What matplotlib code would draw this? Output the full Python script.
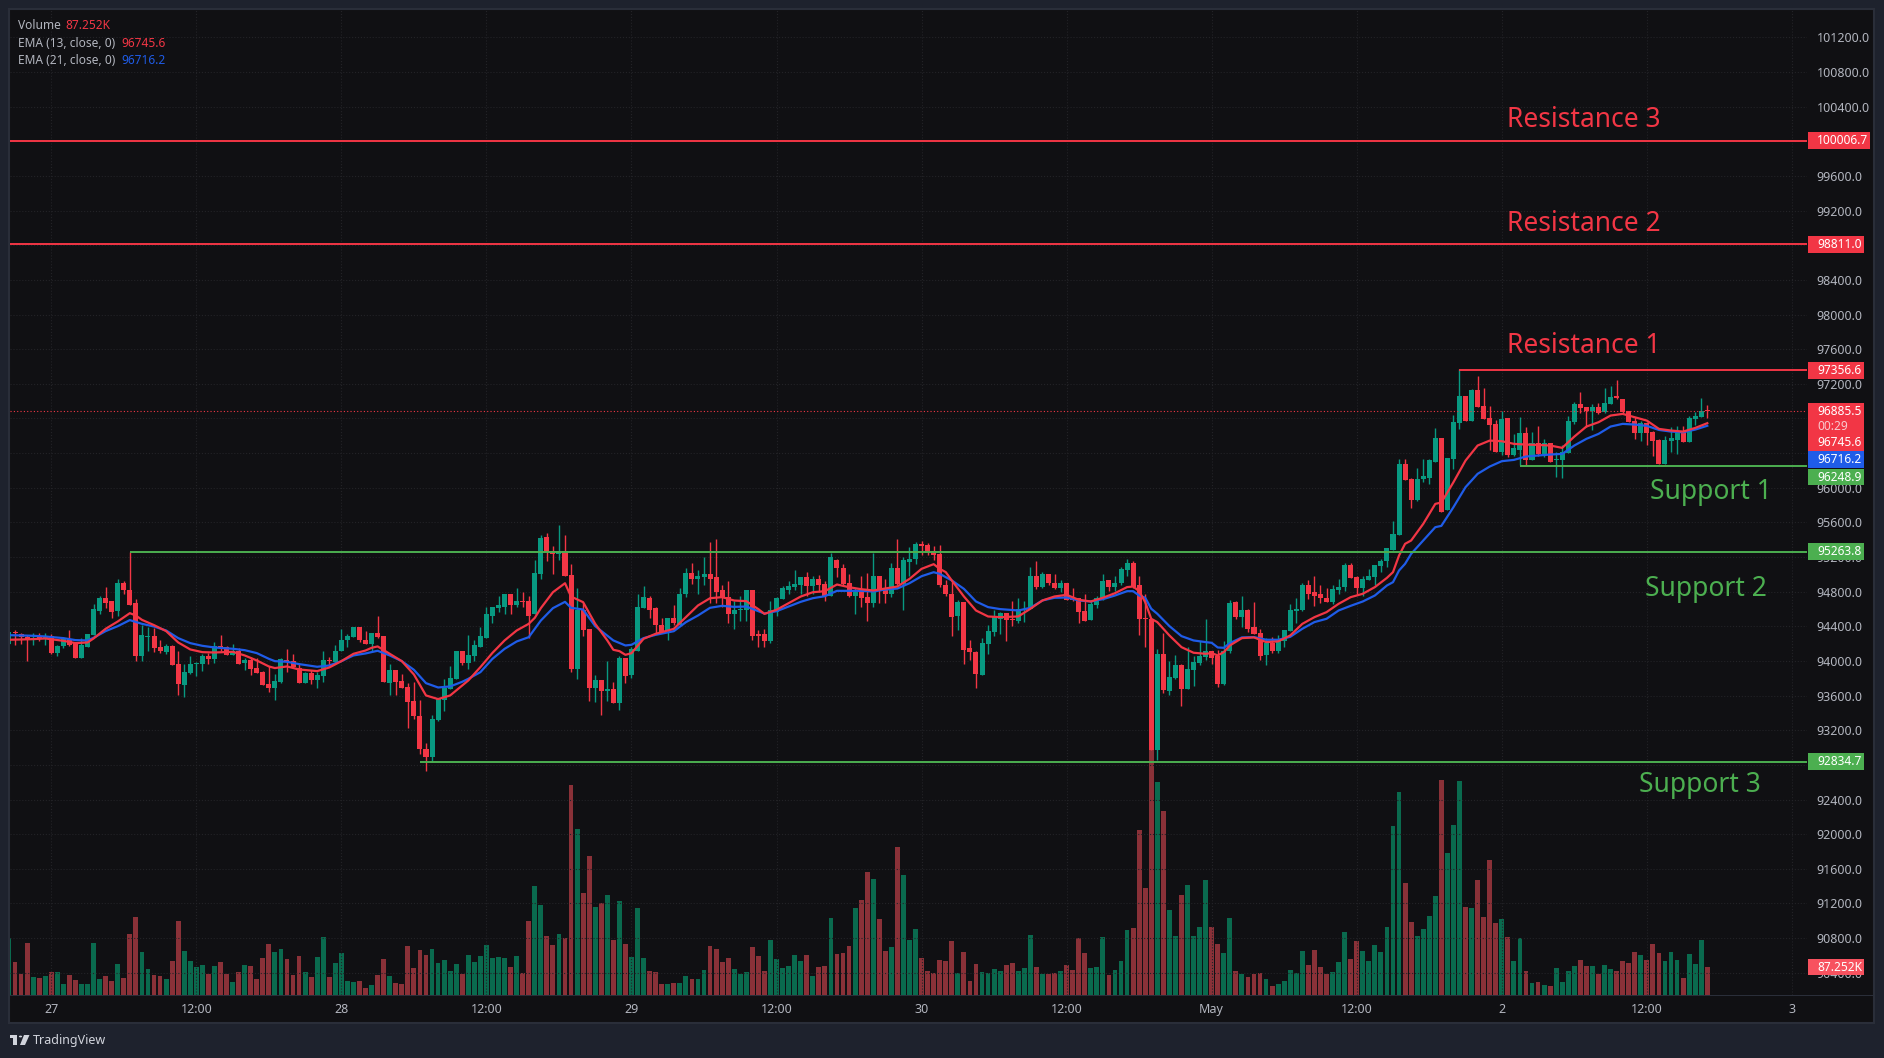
import numpy as np
import matplotlib
matplotlib.use('Agg')
import matplotlib.pyplot as plt
from matplotlib.patches import Rectangle, Polygon, Circle
from matplotlib.transforms import blended_transform_factory

plt.rcParams['font.family'] = ['Noto Sans', 'DejaVu Sans']

# 30 minute candles
highs = [
    94329,94352,94322,94295,94325,94325,94325,94306,94179,94279,
    94352,94210,94268,94306,94660,94745,94849,94687,94941,94918,
    95264,94710,94410,94387,94383,94248,94191,94179,94121,93960,
    94052,93987,94083,94087,94214,94295,94168,94191,94145,94029,
    94041,94029,93879,93937,93845,94029,94133,94075,93960,93868,
    93891,93868,94121,94041,94179,94375,94306,94387,94387,94341,
    94318,94514,94283,93960,93891,93845,93741,93752,93544,93048,
    93371,93567,93787,93937,94121,94121,94295,94237,94398,94629,
    94629,94756,94775,94779,94837,94802,94756,95171,95460,95483,
    95333,95575,95460,95125,94848,94675,94364,93833,93775,93994,
    93752,94052,94040,94156,94768,94871,94756,94629,94502,94502,
    94652,94837,95079,95137,95052,95195,95379,95414,94883,94918,
    94687,94756,94814,94825,94352,94364,94698,94744,94871,94929,
    95045,94975,95033,94987,94998,94918,95252,95183,95125,95010,
    94848,94987,95021,95252,94987,94941,95137,95414,95206,95321,
    95379,95391,95368,95333,95345,94930,94918,94699,94676,94237,
    94110,94260,94410,94583,94560,94549,94687,94733,94687,95080,
    95149,95033,95010,94999,94930,94906,94837,94722,94768,94699,
    94745,94999,94930,94976,95080,95183,95160,94976,94768,94479,
    94133,94318,93995,94064,93960,94156,94052,94226,94479,94110,
    94122,94226,94699,94687,94745,94595,94676,94364,94260,94272,
    94295,94352,94653,94722,94906,94930,94976,94883,94837,94883,
    94941,95137,95137,94976,94976,95057,95114,95183,95299,95622,
    96334,96334,96118,96234,96338,96338,96695,96580,96349,96845,
    97372,97065,97145,97295,97157,96949,96788,96892,96811,96626,
    96822,96707,96649,96718,96568,96522,96418,96499,96834,96995,
    97111,96938,96972,96984,97157,97180,97249,97030,96892,96822,
    96776,96765,96661,96568,96603,96707,96718,96718,96834,96880,97042,96961,
]
lows = [
    94191,94187,94191,94000,94183,94225,94183,94075,94056,94152,
    94168,94029,94029,94156,94295,94537,94606,94502,94525,94768,
    94652,93995,93995,94110,94098,94087,94075,93948,93602,93579,
    93845,93821,93879,93960,93971,94110,94064,94064,93960,93891,
    93833,93856,93718,93637,93544,93741,93868,93914,93741,93741,
    93729,93683,93752,93925,93971,94110,94156,94272,94214,94191,
    94110,94260,93752,93602,93602,93683,93221,93325,92921,92725,
    92829,93302,93417,93671,93787,93948,93902,93994,94167,94271,
    94444,94571,94548,94537,94618,94629,94271,94537,94952,95160,
    95010,95171,94987,93867,93787,94283,93533,93521,93371,93533,
    93510,93429,93740,93798,94110,94606,94502,94306,94329,94248,
    94421,94410,94744,94894,94779,94883,94675,94675,94629,94433,
    94375,94467,94467,94248,94156,94156,94202,94525,94721,94768,
    94825,94768,94756,94768,94802,94698,94756,94975,94883,94744,
    94537,94629,94467,94629,94664,94675,94744,94883,94594,94987,
    95125,95218,95218,95171,94860,94756,94283,94352,93960,94006,
    93683,93833,94075,94283,94306,94226,94399,94433,94445,94595,
    94826,94837,94883,94826,94791,94699,94687,94433,94456,94468,
    94606,94699,94803,94803,94883,94987,94837,94295,94156,92968,
    92852,93625,93602,93787,93475,93672,93706,93949,94006,93960,
    93695,93718,94087,94479,94387,94329,94306,94006,93949,94087,
    94087,94156,94341,94433,94572,94710,94630,94664,94676,94653,
    94779,94803,94953,94768,94745,94930,94872,95022,95080,95276,
    95460,96095,95772,95853,96061,96049,96303,95726,95749,96222,
    96684,96776,96776,96938,96799,96441,96418,96384,96361,96372,
    96268,96268,96326,96372,96361,96303,96130,96118,96407,96742,
    96868,96707,96672,96857,96868,96972,97030,96857,96765,96568,
    96545,96499,96372,96280,96280,96418,96395,96534,96534,96730,96822,96811,
]
opens = [
    94191,94329,94314,94279,94241,94275,94264,94283,94087,94168,
    94256,94202,94029,94156,94295,94572,94733,94687,94572,94906,
    94825,94664,94052,94275,94283,94156,94098,94168,93960,93718,
    93856,93964,93960,94052,94018,94168,94156,94064,94110,93971,
    94006,93914,93868,93729,93683,93752,94006,93994,93914,93741,
    93856,93775,93821,94006,93983,94110,94248,94272,94387,94248,
    94191,94318,94283,93741,93891,93764,93694,93533,93360,92979,
    92887,93314,93544,93671,93787,94110,93971,94052,94167,94271,
    94525,94606,94629,94768,94652,94687,94687,94537,95010,95437,
    95275,95241,95275,94998,93902,94583,94364,93683,93775,93648,
    93671,93510,94029,93833,94110,94606,94733,94606,94421,94341,
    94491,94421,94768,95021,94952,94975,95010,94964,94814,94744,
    94548,94587,94583,94814,94306,94306,94225,94571,94721,94825,
    94860,94883,94975,94871,94941,94894,94756,95171,95079,94906,
    94756,94825,94744,94675,94987,94814,94779,95079,94894,95148,
    95183,95356,95345,95275,95241,94883,94779,94514,94676,94145,
    94099,93833,94191,94329,94479,94549,94483,94456,94583,94595,
    94987,94849,95010,94906,94837,94906,94710,94722,94572,94468,
    94641,94710,94930,94860,94895,95045,95126,94883,94491,94479,
    92968,94075,93649,93799,93949,93672,93891,93972,94041,94110,
    94052,93729,94110,94676,94503,94583,94387,94318,94064,94202,
    94110,94226,94341,94572,94583,94883,94791,94768,94733,94676,
    94814,94849,95103,94964,94837,94930,94964,95091,95149,95287,
    95460,96280,96107,95864,96107,96118,96303,96580,95749,96338,
    96753,97065,96776,97134,96949,96811,96741,96418,96811,96384,
    96441,96638,96326,96522,96395,96522,96315,96326,96407,96765,
    96972,96938,96892,96938,96880,96972,97053,97030,96892,96776,
    96638,96753,96649,96557,96280,96545,96557,96649,96534,96799,96822,96892,
]
closes = [
    94329,94318,94275,94252,94268,94268,94287,94087,94168,94268,
    94179,94029,94179,94306,94595,94733,94675,94560,94906,94814,
    94652,94052,94295,94283,94145,94110,94168,93948,93729,93868,
    93960,93975,94052,94018,94168,94156,94064,94110,93960,94006,
    93902,93856,93718,93683,93764,94018,93983,93925,93741,93856,
    93775,93833,94006,93994,94121,94248,94283,94387,94237,94191,
    94318,94272,93752,93891,93752,93683,93521,93360,92979,92887,
    93325,93556,93683,93798,94121,93971,94064,94179,94283,94537,
    94618,94641,94768,94652,94687,94679,94525,95021,95425,95264,
    95241,95275,94987,93902,94583,94352,93683,93775,93648,93671,
    93510,94040,93821,94133,94618,94744,94594,94410,94329,94491,
    94444,94768,95021,94952,94987,95010,94952,94791,94733,94548,
    94583,94594,94814,94294,94294,94225,94583,94733,94837,94871,
    94894,94975,94871,94941,94883,94756,95195,95068,94894,94756,
    94802,94733,94675,94987,94814,94779,95079,94894,95171,95183,
    95356,95333,95252,95229,94872,94768,94503,94676,94122,94099,
    93845,94202,94341,94503,94549,94468,94468,94595,94595,94987,
    94849,95010,94895,94837,94906,94699,94699,94560,94456,94653,
    94722,94918,94860,94895,95057,95126,94860,94479,94479,92968,
    94075,93660,93810,93949,93672,93902,93983,94052,94110,94029,
    93729,94110,94664,94503,94583,94364,94306,94052,94202,94110,
    94237,94352,94583,94595,94883,94779,94756,94722,94676,94826,
    94860,95103,94953,94837,94941,94976,95103,95160,95299,95472,
    96276,96095,95864,96107,96141,96315,96580,95726,96349,96765,
    97065,96776,97134,96938,96799,96730,96418,96799,96384,96465,
    96638,96326,96522,96395,96522,96303,96338,96418,96776,96972,
    96926,96892,96938,96868,96984,97053,97042,96880,96765,96638,
    96753,96638,96545,96280,96557,96580,96649,96534,96811,96834,96892,96885.5,
]
# volume in thousands
volume = [
    178,103,65,162,56,53,59,72,72,34,
    62,47,34,34,162,50,59,44,97,53,
    190,243,134,81,62,59,50,106,231,137,
    106,87,93,65,90,103,65,41,72,93,
    90,50,115,159,134,143,112,62,122,72,
    56,118,181,56,100,131,44,41,44,22,
    31,62,112,59,37,34,153,84,140,125,
    143,100,109,75,97,65,125,103,122,156,
    115,118,115,87,122,69,231,340,280,184,
    156,190,178,654,517,318,433,274,287,312,
    171,293,159,118,271,115,75,72,34,34,
    37,37,59,50,50,78,153,143,103,115,
    81,65,72,150,122,75,171,112,84,90,
    125,106,125,59,87,90,240,128,131,153,
    271,296,383,361,237,137,150,461,374,171,
    206,115,75,69,109,106,168,69,134,44,
    97,72,69,81,75,93,100,75,84,187,
    87,65,65,69,75,93,78,178,131,84,
    87,181,62,78,106,203,209,514,333,780,
    664,573,265,184,312,343,184,212,358,212,
    159,131,240,75,65,56,65,69,50,28,
    34,44,78,69,137,93,140,87,65,72,
    103,196,112,168,137,106,156,134,212,527,
    633,349,227,184,206,246,308,670,442,530,
    668,274,271,358,243,421,224,237,181,106,
    178,75,37,41,31,28,84,41,75,90,
    109,90,90,65,93,81,75,106,100,134,
    125,109,159,131,106,134,109,53,128,97,171,87.252,
]

# EMA readings, taken at the bars where the curves could be read
ema13_bars = [0,4,6,9,11,13,14,16,18,20,21,22,24,26,28,30,32,34,37,39,41,43,44,46,48,51,53,55,57,59,60,61,63,65,67,69,71,73,75,76,
    78,80,82,84,86,87,88,90,92,93,95,97,99,100,101,102,103,105,107,110,112,114,116,118,120,122,124,125,127,129,131,133,135,137,139,141,143,145,147,149,151,153,
    154,155,156,158,160,162,164,167,169,171,173,175,177,179,181,183,185,186,187,188,189,190,192,194,196,198,199,200,201,202,204,206,208,210,212,214,216,218,220,222,224,226,228,229,230,231,
    232,234,236,237,239,241,243,245,247,249,251,253,255,257,259,261,263,265,267,269,271,273,275,277,279,281]
ema13 = [94245,94252,94260,94233,94206,94214,94260,94372,94456,94552,94525,94475,94414,94345,94214,94133,94102,94098,94106,94064,94006,93937,93918,93937,93902,93883,93925,93998,94083,94121,94152,94168,94083,93998,93844,93602,93560,93602,93718,93775,
    93929,94094,94237,94352,94429,94498,94610,94794,94898,94744,94679,94429,94237,94129,94114,94071,94090,94256,94314,94371,94506,94641,94725,94737,94698,94691,94598,94544,94591,94668,94744,94794,94806,94883,94852,94829,94814,94837,94860,94948,95064,95118,
    95064,95026,94930,94745,94583,94514,94506,94514,94603,94699,94745,94764,94706,94687,94730,94783,94853,94860,94806,94679,94487,94449,94295,94160,94095,94083,94091,94064,94102,94179,94264,94272,94218,94226,94295,94429,94506,94564,94660,94737,94776,94853,94960,95026,95218,95353,
    95391,95583,95814,95830,96064,96314,96488,96545,96538,96507,96499,96495,96488,96461,96591,96707,96757,96834,96853,96815,96776,96680,96661,96649,96691,96745.6]
ema21_bars = [0,4,6,9,11,13,14,16,18,20,22,24,26,28,30,32,34,37,39,41,43,44,46,48,51,53,55,57,59,61,63,65,67,69,71,73,75,76,
    78,80,82,84,86,88,90,92,93,95,97,100,102,103,105,107,110,112,114,116,118,120,122,124,125,127,129,131,133,135,137,139,141,143,145,147,149,151,153,
    154,156,158,160,162,164,167,169,171,173,175,177,179,181,183,185,186,187,188,189,190,192,194,196,198,199,200,201,202,204,206,208,210,212,214,216,218,220,222,224,226,228,229,230,231,
    232,234,236,237,239,241,243,245,247,249,251,253,255,257,259,261,263,265,267,269,271,273,275,277,279,281]
ema21 = [94298,94291,94283,94264,94241,94237,94268,94345,94402,94472,94429,94398,94352,94264,94206,94175,94156,94141,94125,94091,94025,93998,93991,93964,93933,93948,93998,94064,94087,94118,94064,93998,93898,93744,93694,93706,93760,93794,
    93871,94025,94140,94225,94275,94467,94610,94683,94614,94594,94402,94237,94179,94187,94264,94302,94344,94448,94525,94614,94637,94625,94629,94575,94548,94575,94629,94683,94725,94748,94810,94810,94810,94802,94825,94837,94898,94979,95025,
    95006,94930,94833,94687,94622,94599,94583,94614,94699,94730,94733,94699,94687,94714,94756,94806,94806,94756,94730,94603,94545,94403,94287,94237,94218,94210,94156,94152,94206,94272,94276,94245,94245,94279,94372,94449,94487,94583,94637,94687,94756,94872,94910,95045,95122,
    95237,95391,95545,95560,95776,96007,96161,96245,96307,96322,96361,96372,96384,96391,96488,96565,96622,96707,96738,96730,96715,96668,96649,96641,96672,96716.2]

price_ticks = np.arange(90400, 101600, 400)
time_ticks = np.arange(7, 298, 24)
time_labels = ['27', '12:00', '28', '12:00', '29', '12:00', '30', '12:00', 'May', '12:00', '2', '12:00', '3']

res3, res2, res1 = 100006.7, 98811.0, 97356.6
sup1, sup2, sup3 = 96248.9, 95263.8, 92834.7
last_price = 96885.5
ema13_last, ema21_last = 96745.6, 96716.2

BG = '#1e222d'
PANEL = '#101013'
BORDER = '#2a2e39'
GRID = '#232327'
RED = '#f23645'
GREEN = '#089981'
LINE_GREEN = '#4caf50'
BLUE = '#1f5ce8'
VOL_RED = '#8a3138'
VOL_GREEN = '#0a6a4e'
TXT = '#b2b5be'

W, H = 1884, 1058
fig = plt.figure(figsize=(W / 100, H / 100), dpi=100, facecolor=BG)


def frect(x0, y0, x1, y1, **kw):
    # rectangle in picture pixels, y going down
    fig.add_artist(Rectangle((x0 / W, 1 - y1 / H), (x1 - x0) / W, (y1 - y0) / H,
                             transform=fig.transFigure, **kw))


def ftext(x, y, s, **kw):
    fig.text(x / W, 1 - y / H, s, va='center', **kw)


frect(9, 9, 1874, 1023, facecolor=PANEL, edgecolor=BORDER, linewidth=1.5)

L, R, T, B = 10, 1807, 10, 995
pos = [L / W, 1 - B / H, (R - L) / W, (B - T) / H]
ax_vol = fig.add_axes(pos, facecolor='none')
ax = fig.add_axes(pos, facecolor='none')
ax_vol.set_zorder(1)
ax.set_zorder(2)

bars = np.arange(len(closes))
o = np.array(opens, dtype=float)
c = np.array(closes, dtype=float)
h = np.array(highs, dtype=float)
l = np.array(lows, dtype=float)
up = c >= o
xlim = (0.17, 297.5)

ax_vol.set_xlim(xlim)
ax_vol.set_ylim(0, 3069.5)
ax_vol.axis('off')
ax_vol.bar(bars, volume, width=0.8, color=[VOL_GREEN if u else VOL_RED for u in up], linewidth=0)

ax.set_xlim(xlim)
ax.set_ylim(90143, 101517)
ax.grid(True, color=GRID, linestyle=':', linewidth=0.8)
ax.set_axisbelow(True)
for s in ax.spines.values():
    s.set_visible(False)

ax.yaxis.tick_right()
ax.set_yticks(price_ticks)
ax.set_yticklabels(['{:.1f}'.format(p) for p in price_ticks])
ax.tick_params(axis='y', length=0, pad=7, labelsize=9, labelcolor=TXT)
ax.set_xticks(time_ticks)
ax.set_xticklabels(time_labels)
ax.tick_params(axis='x', length=0, pad=6, labelsize=9, labelcolor=TXT)
for lab in ax.get_xticklabels():
    if lab.get_text() == 'May':
        lab.set_fontweight('bold')

# candles
colors = [GREEN if u else RED for u in up]
ax.vlines(bars, l, h, colors=colors, linewidth=1.0, zorder=3)
body_low = np.minimum(o, c)
body_h = np.maximum(np.abs(c - o), 14)
ax.bar(bars, body_h, bottom=body_low, width=0.83, color=colors, linewidth=0, zorder=3.1)

# emas
ax.plot(ema21_bars, ema21, color=BLUE, linewidth=1.6, zorder=4)
ax.plot(ema13_bars, ema13, color=RED, linewidth=1.6, zorder=4.1)

# levels
ax.hlines(last_price, xlim[0], xlim[1], colors=RED, linewidth=0.8, linestyles=(0, (1, 2)), zorder=3.5)
ax.hlines([res3, res2], xlim[0], xlim[1], colors=RED, linewidth=1.4, zorder=6)
ax.hlines(res1, 240, xlim[1], colors=RED, linewidth=1.4, zorder=6)
ax.hlines(sup1, 250, xlim[1], colors=LINE_GREEN, linewidth=1.4, zorder=6)
ax.hlines(sup2, 20, xlim[1], colors=LINE_GREEN, linewidth=1.4, zorder=6)
ax.hlines(sup3, 68, xlim[1], colors=LINE_GREEN, linewidth=1.4, zorder=6)

for x, y, s, col in [(260.5, 100245, 'Resistance 3', RED), (260.5, 99045, 'Resistance 2', RED),
                     (260.5, 97635, 'Resistance 1', RED), (281.6, 95955, 'Support 1', LINE_GREEN),
                     (280.7, 94835, 'Support 2', LINE_GREEN), (279.7, 92565, 'Support 3', LINE_GREEN)]:
    ax.text(x, y, s, color=col, fontsize=19, ha='center', va='center', zorder=7)

# price badges over the axis, x in px past the plot edge
span = R - L
tr = blended_transform_factory(ax.transAxes, ax.transData)
unit = 1 / 0.0866  # price per pixel
text_x = 1 + 10 / span


def badge(center, label, color, half=8.4, width=56):
    ax.add_patch(Rectangle((1 + 1 / span, center - half * unit), width / span, 2 * half * unit,
                           transform=tr, facecolor=color, edgecolor='none', clip_on=False, zorder=10))
    ax.text(text_x, center, label, transform=tr, color='white', fontsize=8.6, fontweight='bold',
            ha='left', va='center', clip_on=False, zorder=11)


badge(res3, '100006.7', RED, width=62)
badge(res2, '98811.0', RED)
badge(res1, '97356.6', RED)
badge(sup3, '92834.7', LINE_GREEN)
badge(sup2, '95263.8', LINE_GREEN)
# the stacked block around the last price, pushed apart as the chart does it
badge(last_price - 16 * unit, '', RED, half=24)
ax.text(text_x, last_price, '96885.5', transform=tr, color='white', fontsize=8.6, fontweight='bold',
        ha='left', va='center', clip_on=False, zorder=11)
ax.text(text_x, last_price - 15 * unit, '00:29', transform=tr, color='#f9c9cd', fontsize=8.6,
        ha='left', va='center', clip_on=False, zorder=11)
ax.text(text_x, last_price - 31 * unit, '96745.6', transform=tr, color='white', fontsize=8.6, fontweight='bold',
        ha='left', va='center', clip_on=False, zorder=11)
badge(last_price - 48.5 * unit, '96716.2', BLUE)
badge(last_price - 66 * unit, '96248.9', LINE_GREEN)
vol_price = (ax_vol.transData + ax.transData.inverted()).transform((0, volume[-1]))[1]
badge(vol_price, '87.252K', '#f7525f')

frect(10, 994.5, 1874, 995.5, facecolor=BORDER, edgecolor='none', zorder=5)

# legend block
ftext(18, 25.5, 'Volume', color=TXT, fontsize=8.6)
ftext(65, 25.5, '87.252K', color=RED, fontsize=8.6)
ftext(18, 43, 'EMA (13, close, 0)', color=TXT, fontsize=8.6)
ftext(121, 43, '96745.6', color=RED, fontsize=8.6)
ftext(18, 60, 'EMA (21, close, 0)', color=TXT, fontsize=8.6)
ftext(121, 60, '96716.2', color=BLUE, fontsize=8.6)

# TradingView mark
LOGO = '#d1d4dc'
frect(10, 1035, 17, 1038, facecolor=LOGO, edgecolor='none')
frect(13, 1035, 17, 1045, facecolor=LOGO, edgecolor='none')
fig.add_artist(Circle((20.5 / W, 1 - 1036.5 / H), 1.6 / W, transform=fig.transFigure, facecolor=LOGO, edgecolor='none'))
fig.add_artist(Polygon([(24 / W, 1 - 1035 / H), (29.5 / W, 1 - 1035 / H), (25 / W, 1 - 1045 / H), (20 / W, 1 - 1045 / H)],
                       transform=fig.transFigure, facecolor=LOGO, edgecolor='none'))
ftext(33, 1040.5, 'TradingView', color=LOGO, fontsize=9)

fig.savefig('out.png', dpi=100, facecolor=BG)
